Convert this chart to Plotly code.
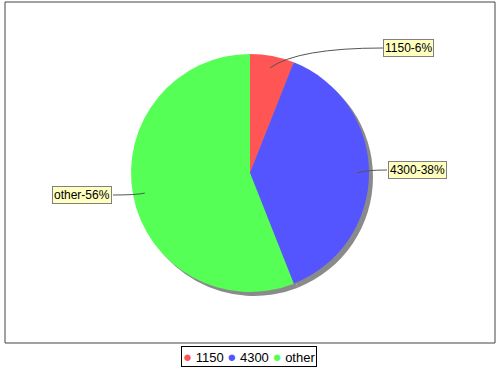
import math
import plotly.graph_objects as go

# ---- data ----
categories = ["1150", "4300", "other"]
values = [6, 38, 56]
percent_labels = ["6%", "38%", "56%"]
colors = ["#FF5555", "#5555FF", "#55FF55"]

W, H = 500, 370
cx, cy, r = 250, 173, 119      # pie centre / radius in px
shadow_off = 4

def px(x):
    return x / W

def py(y):
    return 1 - y / H

fig = go.Figure()

# shadow
fig.add_trace(go.Pie(
    values=values, labels=[c + "_s" for c in categories],
    marker=dict(colors=["#8a8a8a"] * len(values), line=dict(width=0)),
    sort=False, direction="clockwise", rotation=0, textinfo="none",
    hoverinfo="skip", showlegend=False,
    domain=dict(x=[px(cx - r + shadow_off), px(cx + r + shadow_off)],
                y=[py(cy + r + shadow_off), py(cy - r + shadow_off)]),
))
# pie
fig.add_trace(go.Pie(
    values=values, labels=categories,
    marker=dict(colors=colors, line=dict(width=0)),
    sort=False, direction="clockwise", rotation=0, textinfo="none",
    showlegend=False,
    domain=dict(x=[px(cx - r), px(cx + r)], y=[py(cy + r), py(cy - r)]),
))

# labels with leader lines
label_pos = [(408, 48, "left"), (417, 170, "left"), (82, 195, "right")]
label_edge = [383, 387, 113]
total = sum(values)
cum = 0
annotations = []
shapes = []
for i, v in enumerate(values):
    mid = (cum + v / 2) / total * 2 * math.pi
    cum += v
    ax = cx + 0.9 * r * math.sin(mid)
    ay = cy - 0.9 * r * math.cos(mid)
    lx, ly, side = label_pos[i]
    ex = label_edge[i]
    ctrl_x = ax + (ex - ax) * 0.25
    ctrl_y = ly
    path = (f"M {px(ax)},{py(ay)} Q {px(ctrl_x)},{py(ctrl_y)} "
            f"{px(ex)},{py(ly)}")
    shapes.append(dict(type="path", xref="paper", yref="paper", path=path,
                       line=dict(color="#555555", width=1)))
    annotations.append(dict(
        x=px(lx), y=py(ly), xref="paper", yref="paper",
        text=f"{categories[i]}-{percent_labels[i]}", showarrow=False,
        font=dict(family="Liberation Sans, Arial, sans-serif", size=12,
                  color="#000000"),
        bgcolor="#FFFFC0", bordercolor="#808080", borderwidth=1, borderpad=1,
        xanchor="center", yanchor="middle"))

# plot border
shapes.append(dict(type="rect", xref="paper", yref="paper",
                   x0=px(5), x1=px(495), y0=py(343), y1=py(2),
                   line=dict(color="#444444", width=1)))

# legend
legend_text = "&nbsp;".join(
    f"<span style='color:{c};font-size:15px'>●</span>&nbsp;{cat}"
    for cat, c in zip(categories, colors))
annotations.append(dict(
    x=px(249), y=py(356.5), xref="paper", yref="paper", text=legend_text,
    showarrow=False,
    font=dict(family="Liberation Sans, Arial, sans-serif", size=13, color="#000000"),
    bgcolor="#FFFFFF", bordercolor="#000000", borderwidth=1, borderpad=1,
    xanchor="center", yanchor="middle"))

fig.update_layout(
    width=W, height=H, margin=dict(l=0, r=0, t=0, b=0),
    paper_bgcolor="#FFFFFF", plot_bgcolor="#FFFFFF",
    shapes=shapes, annotations=annotations, showlegend=False,
)

fig.write_html("out.html")
